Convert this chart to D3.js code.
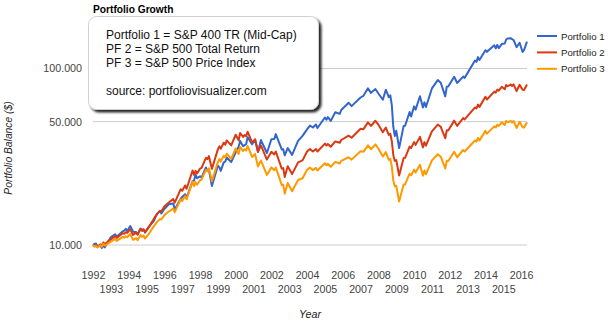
<!DOCTYPE html>
<html>
<head>
<meta charset="utf-8">
<script src="https://cdnjs.cloudflare.com/ajax/libs/d3/7.8.5/d3.min.js"></script>
<style>
body { margin: 0; background: #fff; }
svg { display: block; font-family: Arial, "Liberation Sans", sans-serif; }
</style>
</head>
<body>
<div class="canvas"></div>
<script>
// month-end balances, growth of $10.000 (1991-12 = start)
const dates = ['1991-12','1992-01','1992-02','1992-03','1992-05','1992-06','1992-07','1992-08','1992-12',
  '1993-03','1993-04','1993-08','1993-09','1993-10','1993-11','1994-01','1994-03','1994-05','1994-06',
  '1994-08','1994-09','1994-10','1994-11','1995-02','1995-05','1995-07','1995-09','1995-10','1995-12',
  '1996-03','1996-06','1996-07','1996-11','1996-12','1997-02','1997-03','1997-07','1997-08','1997-09',
  '1997-10','1997-12','1998-01','1998-04','1998-05','1998-06','1998-08','1998-12','1999-01','1999-02',
  '1999-04','1999-05','1999-06','1999-09','1999-12','2000-02','2000-03','2000-05','2000-06','2000-07',
  '2000-08','2000-11','2001-01','2001-03','2001-05','2001-09','2001-12','2002-02','2002-03','2002-07',
  '2002-08','2002-09','2002-11','2003-02','2003-06','2003-09','2003-12','2004-02','2004-04','2004-06',
  '2004-07','2004-12','2005-01','2005-02','2005-04','2005-07','2005-10','2005-11','2006-04','2006-06',
  '2006-12','2007-02','2007-05','2007-07','2007-10','2007-12','2008-03','2008-05','2008-07','2008-08',
  '2008-09','2008-10','2008-11','2008-12','2009-02','2009-05','2009-06','2009-09','2009-10','2009-12',
  '2010-01','2010-04','2010-06','2010-07','2010-08','2010-12','2011-04','2011-06','2011-09','2011-10',
  '2011-11','2012-03','2012-05','2012-09','2012-10','2013-05','2013-06','2013-07','2013-08','2013-12',
  '2014-01','2014-06','2014-07','2014-08','2014-09','2014-11','2015-01','2015-02','2015-03','2015-05',
  '2015-06','2015-07','2015-09','2015-11','2016-01','2016-02','2016-04']

const portfolio1 = [10000,10150,10200,9800,9900,9620,9950,9700,11100,
  11500,11150,11950,12050,12350,12000,12800,11900,11850,11500,
  12400,12150,12250,11750,12800,13700,15000,15600,15100,16000,
  17000,17200,15900,18300,18700,19400,18500,23000,23200,25000,
  23900,24500,24100,27500,26300,26700,21600,28100,27600,26300,
  29400,29700,31300,29500,33500,36000,38800,36300,36800,37200,
  40800,37200,39600,33600,39300,33200,39700,39900,42500,34800,
  34900,32200,35400,32400,38900,41500,45200,47500,46300,48200,
  46000,52800,51300,53000,50500,56500,55300,58200,64000,61200,
  68500,70000,77200,72800,76500,72200,66500,75800,68800,70500,
  62300,46800,41500,44400,35400,47300,47400,56700,53500,61000,
  58500,69600,60200,64300,60500,77100,86000,83000,69500,78800,
  79000,89800,82800,90000,88500,111000,109000,116000,111800,127000,
  124300,135500,130000,136200,130500,137500,138500,146000,148000,148500,
  146500,145000,132000,140000,124000,127000,142000]

const portfolio2 = [10000,9830,9945,9755,10090,9930,10350,10125,10760,
  11230,10975,11660,11570,11820,11700,12260,11405,11735,11440,
  12310,12005,12290,11825,12795,14095,14905,15565,15515,16505,
  17395,18185,17380,20710,20300,21745,20835,26425,24950,26320,
  25440,27080,27380,31185,30630,31890,26990,34805,36265,35125,
  37965,37045,39130,36660,42135,39245,43115,40940,41955,41305,
  43850,38125,39660,33775,36645,30495,33745,32610,33865,27080,
  27260,24300,27970,25215,29370,30160,33830,34945,33880,35010,
  33865,37510,36625,37375,36035,38615,37940,39340,41640,40505,
  45565,45335,49545,47245,50560,48055,43545,46300,42060,42655,
  38870,32360,29970,30280,24745,31115,31185,36090,35430,38285,
  36925,40995,35730,38270,36510,44055,48095,46740,40255,44685,
  44520,50655,47310,52395,51465,60175,59380,62440,60610,69085,
  66760,74025,73045,75895,74860,78725,76240,80575,79330,81095,
  79540,81260,74440,80905,75735,75555,81055]

const portfolio3 = [10000,9800,9895,9680,9960,9785,10170,9925,10445,
  10830,10555,11115,11000,11215,11070,11545,10690,10945,10650,
  11400,11095,11325,10880,11685,12790,13475,14010,13940,14765,
  15475,16080,15340,18150,17760,18960,18150,22880,21565,22710,
  21930,23265,23505,26655,26155,27185,22950,29470,30680,29690,
  32010,31210,32910,30755,35230,32760,35930,34060,34875,34305,
  36390,31535,32750,27820,30110,24955,27525,26535,27510,21855,
  21965,19550,22450,20170,23365,23880,26660,27450,26550,27350,
  26415,29055,28325,28860,27740,29590,28940,29960,31425,30455,
  34005,33730,36700,34895,37150,35205,31715,33575,30390,30755,
  27965,23230,21485,21660,17625,22035,22040,25345,24845,26735,
  25750,28450,24710,26410,25160,30155,32695,31665,27125,30050,
  29900,33770,31415,34540,33860,39100,38510,40415,39155,44315,
  42740,47000,46290,48035,47290,49575,47830,50455,49580,50525,
  49465,50440,46035,49880,46520,46325,49515]

const seriesNames = ['Portfolio 1', 'Portfolio 2', 'Portfolio 3']
const colors = ['#3366cc', '#dc3912', '#ff9900']
const yTicks = [10000, 50000, 100000]
const yearTicks = [1992,1993,1994,1995,1996,1997,1998,1999,2000,2001,2002,2003,2004,
  2005,2006,2007,2008,2009,2010,2011,2012,2013,2014,2015,2016]
const notes = ['Portfolio 1 = S&P 400 TR (Mid-Cap)', 'PF 2 = S&P 500 Total Return',
  'PF 3 = S&P 500 Price Index', '', 'source: portfoliovisualizer.com']

const width = 608, height = 323
const left = 93, right = 527

const svg = d3.select('.canvas').append('svg').attr('width', width).attr('height', height)

// a month-end balance sits at the start of the following month
const parse = d3.timeParse('%Y-%m')
const monthEnd = s => d3.timeMonth.offset(parse(s), 1)

const x = d3.scaleTime()
    .domain([new Date(1992, 0, 1), new Date(2016, 4, 1)])
    .range([left, right])
const y = d3.scaleLog()
    .domain([10000, 100000])
    .range([245, 68.5])

const fmt = d3.formatLocale({decimal: ',', thousands: '.', grouping: [3], currency: ['', '$']}).format(',')

// gridlines
svg.append('g').selectAll('line')
    .data(yTicks)
    .enter().append('line')
        .attr('x1', left).attr('x2', right)
        .attr('y1', d => y(d)).attr('y2', d => y(d))
        .attr('stroke', '#cccccc')

// y axis labels
const yAxis = d3.axisLeft(y).tickValues(yTicks).tickSize(0).tickPadding(11).tickFormat(fmt)
const yAxisGraph = svg.append('g').attr('transform', `translate(${left}, 0)`).call(yAxis)
yAxisGraph.select('.domain').remove()
yAxisGraph.selectAll('text').attr('fill', '#444').attr('font-size', 10.7).attr('font-family', null)

// x axis labels, odd years on a second row
const xAxis = d3.axisBottom(x)
    .tickValues(yearTicks.map(yr => new Date(yr, 0, 1)))
    .tickSize(0).tickPadding(26)
    .tickFormat(d3.timeFormat('%Y'))
const xAxisGraph = svg.append('g').attr('transform', 'translate(0, 245)').call(xAxis)
xAxisGraph.select('.domain').remove()
xAxisGraph.selectAll('text')
    .attr('fill', '#444').attr('font-size', 10.7).attr('font-family', null)
    .attr('y', d => d.getFullYear() % 2 ? 40 : 26)

// lines
const series = [portfolio1, portfolio2, portfolio3].map(vals =>
    vals.map((v, i) => ({date: monthEnd(dates[i]), value: v})))

const line = d3.line().x(d => x(d.date)).y(d => y(d.value))

svg.append('g').selectAll('path')
    .data(series)
    .enter().append('path')
        .attr('d', line)
        .attr('fill', 'none')
        .attr('stroke', (d, i) => colors[i])
        .attr('stroke-width', 2)
        .attr('stroke-linejoin', 'round')

// title
svg.append('text')
    .attr('x', left).attr('y', 13)
    .attr('font-size', 10.2).attr('font-weight', 'bold').attr('fill', '#000')
    .text('Portfolio Growth')

// axis titles
svg.append('text')
    .attr('x', (left + right) / 2).attr('y', 318)
    .attr('text-anchor', 'middle').attr('font-style', 'italic')
    .attr('font-size', 10.7).attr('fill', '#222')
    .text('Year')

svg.append('text')
    .attr('transform', 'translate(12, 148) rotate(-90)')
    .attr('text-anchor', 'middle').attr('font-style', 'italic')
    .attr('font-size', 10.3).attr('fill', '#222')
    .text('Portfolio Balance ($)')

// legend
const legend = svg.append('g').selectAll('g')
    .data(seriesNames)
    .enter().append('g')
        .attr('transform', (d, i) => `translate(537, ${36 + i * 16.4})`)

legend.append('line')
    .attr('x1', 0).attr('x2', 20)
    .attr('stroke', (d, i) => colors[i])
    .attr('stroke-width', 2)
legend.append('text')
    .attr('x', 24).attr('y', 3.5)
    .attr('font-size', 9.7).attr('fill', '#222')
    .text(d => d)

// note box with drop shadow
const defs = svg.append('defs')
defs.append('filter').attr('id', 'shadow')
    .attr('x', '-10%').attr('y', '-10%').attr('width', '130%').attr('height', '140%')
    .append('feDropShadow')
        .attr('dx', 2.5).attr('dy', 2.5).attr('stdDeviation', 1.3)
        .attr('flood-color', '#000').attr('flood-opacity', 0.85)

svg.append('rect')
    .attr('x', 88.5).attr('y', 16.5)
    .attr('width', 230).attr('height', 93)
    .attr('rx', 8)
    .attr('fill', '#fff').attr('stroke', '#d0d0d0')
    .attr('filter', 'url(#shadow)')

svg.append('g').selectAll('text')
    .data(notes)
    .enter().append('text')
        .attr('x', 106)
        .attr('y', (d, i) => 39.3 + i * 14)
        .attr('font-size', 12).attr('fill', '#111')
        .text(d => d)
</script>
</body>
</html>
